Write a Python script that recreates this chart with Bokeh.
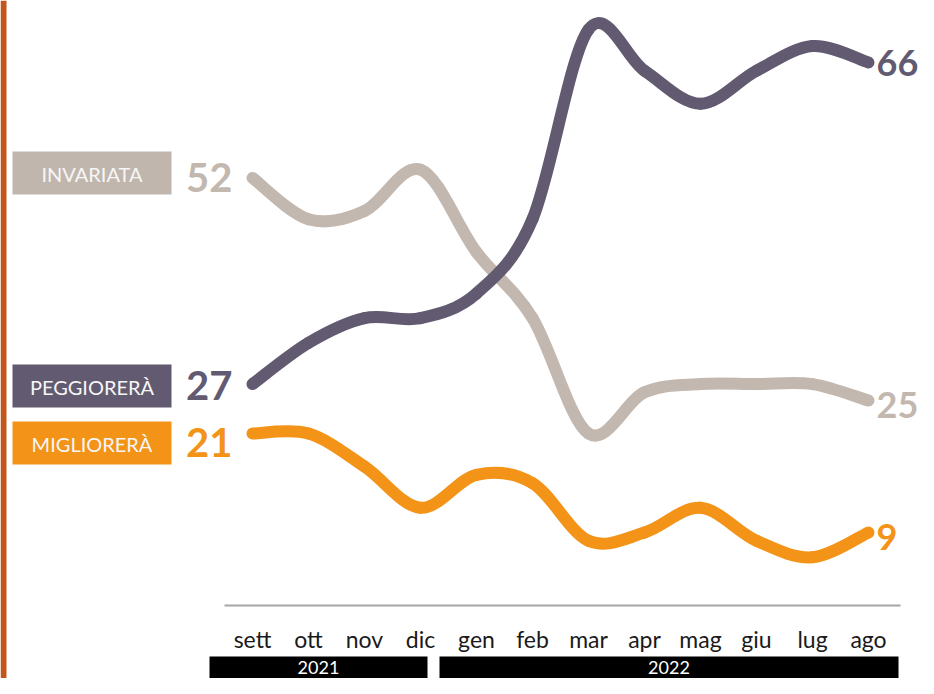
import numpy as np
from bokeh.plotting import figure
from bokeh.models import Range1d
from bokeh.core.properties import value
from bokeh.embed import file_html
from bokeh.resources import INLINE

# ---- data ----
months = ["sett", "ott", "nov", "dic", "gen", "feb", "mar", "apr", "mag", "giu", "lug", "ago"]
years = ["2021", "2022"]
series_names = ["INVARIATA", "PEGGIORERÀ", "MIGLIORERÀ"]
invariata = [52, 47, 48, 53, 43, 35, 21, 26, 27, 27, 27, 25]
peggiorera = [27, 32, 35, 35, 38, 47, 70, 65, 61, 65, 68, 66]
migliorera = [21, 21, 17, 12, 16, 15, 8, 9, 12, 8, 6, 9]

colors = {"INVARIATA": "#c3b8af", "PEGGIORERÀ": "#625a70", "MIGLIORERÀ": "#f39318"}
box_colors = {"INVARIATA": "#c0b6ad", "PEGGIORERÀ": "#625a70", "MIGLIORERÀ": "#f39318"}

# ---- pixel calibration (figure pixels -> data coords) ----
X_FIRST, X_LAST = 252, 868
DX = (X_LAST - X_FIRST) / 11.0
DY = 8.246
def X(px):
    return (px - X_FIRST) / DX
def Y(py):
    return 66 - (py - 62) / DY

W, H = 918, 678
p = figure(width=W, height=H, output_backend="svg", toolbar_location=None,
           x_range=Range1d(X(0), X(W)), y_range=Range1d(Y(H), Y(0)),
           min_border=0, outline_line_color=None)
p.xaxis.visible = False
p.yaxis.visible = False
p.grid.visible = False
p.background_fill_color = "white"
p.border_fill_color = "white"

FONT = value("Lato")

# left orange bar
p.quad(left=[X(0)], right=[X(6)], top=[Y(0)], bottom=[Y(H)], fill_color="#c4561b", line_color=None)

# smooth lines (Catmull-Rom -> cubic bezier segments)
def draw_smooth(vals, color):
    xs = np.arange(len(vals), dtype=float)
    ys = np.array(vals, dtype=float)
    n = len(vals)
    x0, y0, x1, y1, cx0, cy0, cx1, cy1 = [], [], [], [], [], [], [], []
    for i in range(n - 1):
        i0 = max(i - 1, 0)
        i3 = min(i + 2, n - 1)
        x0.append(xs[i]); y0.append(ys[i])
        x1.append(xs[i + 1]); y1.append(ys[i + 1])
        cx0.append(xs[i] + (xs[i + 1] - xs[i0]) / 6.0)
        cy0.append(ys[i] + (ys[i + 1] - ys[i0]) / 6.0)
        cx1.append(xs[i + 1] - (xs[i3] - xs[i]) / 6.0)
        cy1.append(ys[i + 1] - (ys[i3] - ys[i]) / 6.0)
    p.bezier(x0=x0, y0=y0, x1=x1, y1=y1, cx0=cx0, cy0=cy0, cx1=cx1, cy1=cy1,
             line_color=color, line_width=12, line_cap="round")

draw_smooth(invariata, colors["INVARIATA"])
draw_smooth(peggiorera, colors["PEGGIORERÀ"])
draw_smooth(migliorera, colors["MIGLIORERÀ"])

# left label boxes
box_tops = {"INVARIATA": 151, "PEGGIORERÀ": 364, "MIGLIORERÀ": 421}
for name in series_names:
    t = box_tops[name]
    p.quad(left=[X(12)], right=[X(171)], top=[Y(t)], bottom=[Y(t + 43)],
           fill_color=box_colors[name], line_color=None)
    p.text(x=[X(91.5)], y=[Y(t + 22)], text=[name], text_align="center", text_baseline="middle",
           text_font=FONT, text_font_size="20px", text_color="#f6f6f6")

# value labels (start / end)
start_vals = {"INVARIATA": invariata[0], "PEGGIORERÀ": peggiorera[0], "MIGLIORERÀ": migliorera[0]}
end_vals = {"INVARIATA": invariata[-1], "PEGGIORERÀ": peggiorera[-1], "MIGLIORERÀ": migliorera[-1]}
start_shift = {"INVARIATA": 0, "PEGGIORERÀ": 1, "MIGLIORERÀ": 9}
end_shift = {"INVARIATA": 4, "PEGGIORERÀ": 0, "MIGLIORERÀ": 4}
for name in series_names:
    v = start_vals[name]
    p.text(x=[X(232)], y=[v - start_shift[name] / DY], text=[str(v)], text_align="right",
           text_baseline="middle", text_font=FONT, text_font_style="bold",
           text_font_size="40px", text_color=colors[name])
    v2 = end_vals[name]
    p.text(x=[X(876)], y=[v2 - end_shift[name] / DY], text=[str(v2)], text_align="left",
           text_baseline="middle", text_font=FONT, text_font_style="bold",
           text_font_size="36px", text_color=colors[name])

# axis line
p.segment(x0=[X(224)], y0=[Y(605)], x1=[X(900)], y1=[Y(605)], line_color="#a6a6a6", line_width=2)

# month labels
p.text(x=list(range(len(months))), y=[Y(638)] * len(months), text=months, text_align="center",
       text_baseline="middle", text_font=FONT, text_font_size="23px", text_color="#1a1a1a")

# year bars
p.quad(left=[X(209), X(439)], right=[X(427), X(898)], top=[Y(656)] * 2, bottom=[Y(H)] * 2,
       fill_color="black", line_color=None)
p.text(x=[(X(209) + X(427)) / 2, (X(439) + X(898)) / 2], y=[Y(667)] * 2, text=years,
       text_align="center", text_baseline="middle", text_font=FONT, text_font_size="18px",
       text_color="white")

open("out.html", "w").write(file_html(p, INLINE))
